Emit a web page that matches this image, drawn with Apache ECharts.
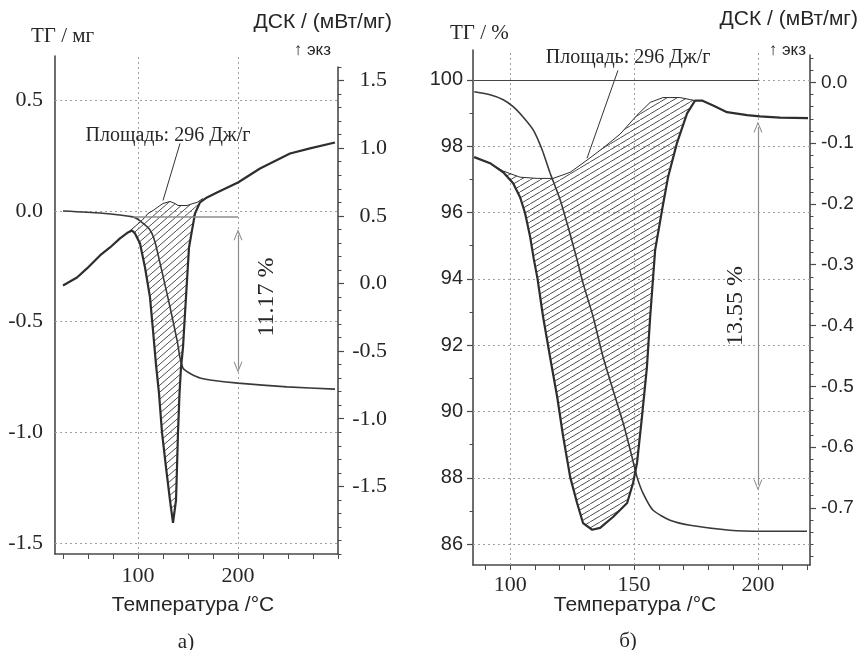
<!DOCTYPE html>
<html><head><meta charset="utf-8">
<script src="https://cdn.jsdelivr.net/npm/echarts@6/dist/echarts.min.js"></script>
<style>html,body{margin:0;padding:0;background:#fff}#c{width:865px;height:650px}</style>
</head><body><div id="c"></div>
<script>
// ===== Panel а) data =====
const aTGTemp = [25, 62, 95, 102, 112, 117, 122, 127, 132, 139, 142, 145, 148, 153, 162, 172, 200, 249, 297];
const aTGVal  = [0.000, -0.009, -0.027, -0.045, -0.086, -0.140, -0.235, -0.334, -0.434, -0.583, -0.664, -0.710, -0.723, -0.737, -0.755, -0.764, -0.778, -0.795, -0.805];
const aDSCTemp = [25, 39, 49, 62, 72, 82, 90, 94, 97, 102, 107, 112, 115, 118, 121, 124, 128, 132, 135, 138, 139, 140, 141.5, 143, 145, 147, 149, 151, 154, 157, 162, 169, 179, 200, 222, 252, 272, 297];
const aDSCVal  = [-0.015, 0.044, 0.111, 0.207, 0.266, 0.333, 0.377, 0.392, 0.370, 0.296, 0.118, -0.103, -0.347, -0.600, -0.813, -1.101, -1.360, -1.604, -1.770, -1.604, -1.360, -1.101, -0.813, -0.621, -0.473, -0.222, 0.022, 0.266, 0.392, 0.517, 0.599, 0.636, 0.673, 0.746, 0.850, 0.961, 0.998, 1.042];
const aBaseTemp = [90, 97, 104, 110, 115, 122, 125, 132, 137, 140, 149, 155, 159, 165];
const aBaseVal  = [0.377, 0.421, 0.466, 0.517, 0.539, 0.576, 0.591, 0.606, 0.591, 0.576, 0.576, 0.591, 0.599, 0.628];
const aXTicks = [25, 50, 75, 100, 125, 150, 175, 200, 225, 250, 275, 300];
const aXLabels = [100, 200];
const aTGLabels = [-1.5, -1.0, -0.5, 0.0, 0.5];
const aDSCLabels = [-1.5, -1.0, -0.5, 0.0, 0.5, 1.0, 1.5];
const aAreaText = 'Площадь: 296 Дж/г';
const aLossText = '11.17 %';

// ===== Panel б) data =====
const bTGTemp = [85.5, 91.9, 97.2, 101.2, 105.2, 109.3, 112.9, 116.1, 120.2, 123.4, 127.0, 129.4, 133.5, 137.5, 141.5, 145.6, 149.2, 151.2, 153.6, 157.7, 164.5, 172.6, 188.7, 202.0, 219.8];
const bTGVal  = [99.64, 99.55, 99.40, 99.19, 98.88, 98.49, 97.89, 97.19, 96.38, 95.56, 94.57, 93.87, 92.85, 91.64, 90.65, 89.65, 88.62, 88.02, 87.54, 87.02, 86.72, 86.57, 86.42, 86.39, 86.39];
const bDSCTemp = [85.5, 91.9, 97.2, 101.2, 104.0, 106.0, 108.1, 109.5, 111.0, 113.3, 116.1, 119.0, 121.4, 124.2, 127.0, 129.4, 133.1, 136.3, 141.5, 147.2, 149.6, 151.2, 153.2, 155.2, 156.5, 157.7, 158.5, 161.3, 163.7, 167.3, 171.4, 174.6, 177.4, 181.9, 187.5, 195.6, 200.8, 208.9, 220.2];
const bDSCVal  = [-0.123, -0.133, -0.148, -0.166, -0.189, -0.215, -0.255, -0.290, -0.322, -0.386, -0.452, -0.518, -0.583, -0.649, -0.692, -0.725, -0.736, -0.733, -0.715, -0.692, -0.659, -0.626, -0.550, -0.468, -0.386, -0.320, -0.276, -0.210, -0.156, -0.100, -0.051, -0.030, -0.030, -0.038, -0.049, -0.054, -0.056, -0.058, -0.059];
const bBaseTemp = [85.5, 91.9, 97.2, 104.0, 110.9, 117.3, 124.2, 131.0, 137.5, 144.4, 151.2, 156.5, 161.7, 168.5, 174.6];
const bBaseVal  = [-0.123, -0.133, -0.146, -0.156, -0.158, -0.158, -0.148, -0.128, -0.108, -0.085, -0.054, -0.033, -0.025, -0.025, -0.030];
const bXTicks = [90, 100, 110, 120, 130, 140, 150, 160, 170, 180, 190, 200, 210, 220];
const bXLabels = [100, 150, 200];
const bTGLabels = [86, 88, 90, 92, 94, 96, 98, 100];
const bDSCLabels = [-0.7, -0.6, -0.5, -0.4, -0.3, -0.2, -0.1, 0.0];
const bAreaText = 'Площадь: 296 Дж/г';
const bLossText = '13.55 %';

// ===== helpers =====
const SERIF = "'Liberation Serif','Times New Roman',serif";
const SANS = "'Liberation Sans',Arial,sans-serif";
const INK = '#262626';
const AXIS = '#4a4a4a';
const GRIDC = '#a0a0a0';
const CURVE = '#2e2e2e';
const ARROW = 'path://M5,0 L10,10 L8.8,10 L5,2.4 L1.2,10 L0,10 Z';

const zip = (xs, ys) => xs.map((x, i) => [x, ys[i]]);
function steps(a, b, s) { const out = []; const n = Math.round((b - a) / s); for (let i = 0; i <= n; i++) out.push(Math.round((a + i * s) * 1000) / 1000); return out; }
function regionPoints(cT, cV, bT, bV) {
  const lo = bT[0], hi = bT[bT.length - 1];
  const upper = [];
  cT.forEach((t, i) => { if (t >= lo && t <= hi) upper.push([t, cV[i]]); });
  return upper.concat(zip(bT, bV).reverse());
}
function makeHatch(w, h, color, lw) {
  const c = document.createElement('canvas'); c.width = w; c.height = h;
  const g = c.getContext('2d'); g.strokeStyle = color; g.lineWidth = lw;
  [-w, 0, w].forEach(dx => { g.beginPath(); g.moveTo(dx, h); g.lineTo(dx + w, 0); g.stroke(); });
  return c;
}
function hatchSeries(xi, yi, pts, canvas) {
  return {
    type: 'custom', xAxisIndex: xi, yAxisIndex: yi, data: pts, silent: true, z: 1, clip: true,
    encode: { x: 0, y: 1 },
    renderItem: function (params, api) {
      if (params.dataIndex !== 0) return null;
      const points = pts.map(p => api.coord(p));
      return { type: 'polygon', shape: { points: points }, style: { fill: { image: canvas, repeat: 'repeat' }, stroke: null } };
    }
  };
}
function gridSeries(xi, yi, xs, ys) {
  return {
    type: 'line', xAxisIndex: xi, yAxisIndex: yi, data: [], silent: true,
    markLine: {
      silent: true, animation: false, symbol: ['none', 'none'], label: { show: false }, z: 1,
      lineStyle: { color: GRIDC, width: 1, type: [2, 3] },
      data: xs.map(v => ({ xAxis: v })).concat(ys.map(v => ({ yAxis: v })))
    }
  };
}
function textMark(coord, text, font, size, rot) {
  return {
    silent: true, animation: false, symbol: 'circle', symbolSize: 1,
    itemStyle: { color: 'rgba(0,0,0,0)' },
    label: { show: true, position: 'inside', formatter: '{b}', rotate: rot || 0, fontFamily: font, fontSize: size, color: INK },
    data: [{ name: text, coord: coord }]
  };
}
const hideAxis = { axisLine: { show: false }, axisTick: { show: false }, axisLabel: { show: false }, splitLine: { show: false } };
function minorY(grid, min, max, pos, vals) {
  return Object.assign({ type: 'value', gridIndex: grid, min: min, max: max, position: pos }, hideAxis,
    { axisTick: { show: true, customValues: vals, length: 3.5, lineStyle: { color: AXIS, width: 1 } } });
}

const hatchA = makeHatch(8, 7, '#4d4d4d', 1);
const hatchB = makeHatch(10, 6, '#4d4d4d', 1);

const chart = echarts.init(document.getElementById('c'), null, { renderer: 'canvas', width: 865, height: 650 });
const option = {
  animation: false,
  backgroundColor: '#fff',
  textStyle: { fontFamily: SANS },
  grid: [
    { left: 55, right: 527, top: 56, bottom: 96 },
    { left: 55, right: 527, top: 67, bottom: 96 },
    { left: 473, right: 55, top: 50, bottom: 85 },
    { left: 473, right: 55, top: 55, bottom: 85 }
  ],
  xAxis: [
    { type: 'value', gridIndex: 0, min: 17, max: 300,
      axisLine: { show: true, onZero: false, lineStyle: { color: AXIS, width: 1.6 } },
      axisTick: { show: true, customValues: aXTicks, length: 5, lineStyle: { color: AXIS, width: 1 } },
      axisLabel: { show: true, customValues: aXLabels, margin: 11, fontFamily: SERIF, fontSize: 22, color: INK },
      splitLine: { show: false } },
    Object.assign({ type: 'value', gridIndex: 1, min: 17, max: 300 }, hideAxis),
    { type: 'value', gridIndex: 2, min: 85, max: 221,
      axisLine: { show: true, onZero: false, lineStyle: { color: AXIS, width: 1.6 } },
      axisTick: { show: true, customValues: bXTicks, length: 5, lineStyle: { color: AXIS, width: 1 } },
      axisLabel: { show: true, customValues: bXLabels, margin: 9, fontFamily: SERIF, fontSize: 22, color: INK },
      splitLine: { show: false } },
    Object.assign({ type: 'value', gridIndex: 3, min: 85, max: 221 }, hideAxis)
  ],
  yAxis: [
    { type: 'value', gridIndex: 0, min: -1.55, max: 0.7, position: 'left',
      axisLine: { show: true, onZero: false, lineStyle: { color: AXIS, width: 1.6 } },
      axisTick: { show: false },
      axisLabel: { show: true, customValues: aTGLabels, formatter: v => v.toFixed(1), margin: 12, fontFamily: SERIF, fontSize: 22, color: INK },
      splitLine: { show: false } },
    { type: 'value', gridIndex: 1, min: -2.0, max: 1.6, position: 'right',
      axisLine: { show: true, onZero: false, lineStyle: { color: AXIS, width: 1.6 } },
      axisTick: { show: true, customValues: aDSCLabels, length: 6, lineStyle: { color: AXIS, width: 1.2 } },
      axisLabel: { show: true, customValues: aDSCLabels, formatter: v => v.toFixed(1), align: 'right', margin: 49, fontFamily: SERIF, fontSize: 22, color: INK },
      splitLine: { show: false } },
    minorY(1, -2.0, 1.6, 'right', steps(-2.0, 1.6, 0.1)),
    { type: 'value', gridIndex: 2, min: 85.37, max: 100.9, position: 'left',
      axisLine: { show: true, onZero: false, lineStyle: { color: AXIS, width: 1.6 } },
      axisTick: { show: true, customValues: bTGLabels, length: 6, lineStyle: { color: AXIS, width: 1.2 } },
      axisLabel: { show: true, customValues: bTGLabels, margin: 10, fontFamily: SANS, fontSize: 20, color: INK },
      splitLine: { show: false } },
    minorY(2, 85.37, 100.9, 'left', steps(86, 100, 1)),
    { type: 'value', gridIndex: 3, min: -0.794, max: 0.045, position: 'right',
      axisLine: { show: true, onZero: false, lineStyle: { color: AXIS, width: 1.6 } },
      axisTick: { show: true, customValues: bDSCLabels, length: 6, lineStyle: { color: AXIS, width: 1.2 } },
      axisLabel: { show: true, customValues: bDSCLabels, formatter: v => v.toFixed(1), margin: 11, fontFamily: SANS, fontSize: 19, color: INK },
      splitLine: { show: false } },
    minorY(3, -0.794, 0.045, 'right', steps(-0.78, 0.04, 0.02))
  ],
  series: [
    // ---- panel а ----
    gridSeries(0, 0, aXLabels, aTGLabels),
    hatchSeries(1, 1, regionPoints(aDSCTemp, aDSCVal, aBaseTemp, aBaseVal), hatchA),
    { type: 'line', xAxisIndex: 1, yAxisIndex: 1, data: zip(aBaseTemp, aBaseVal), showSymbol: false, z: 3, silent: true,
      lineStyle: { color: CURVE, width: 1 } },
    { type: 'line', xAxisIndex: 1, yAxisIndex: 1, data: zip(aDSCTemp, aDSCVal), showSymbol: false, z: 4, silent: true,
      lineStyle: { color: CURVE, width: 2.2 },
      markLine: { silent: true, animation: false, symbol: ['none', 'none'], label: { show: false },
        lineStyle: { color: '#333', width: 1, type: 'solid' },
        data: [[{ coord: [142, 1.035] }, { coord: [125, 0.613] }]] },
      markPoint: textMark([130, 1.094], aAreaText, SERIF, 20, 0) },
    { type: 'line', xAxisIndex: 0, yAxisIndex: 0, data: zip(aTGTemp, aTGVal), showSymbol: false, z: 3, silent: true,
      smooth: 0.2,
      lineStyle: { color: '#3a3a3a', width: 1.6 },
      markLine: { silent: true, animation: false, symbol: ['none', 'none'], symbolSize: [9, 11], label: { show: false },
        data: [
          [{ coord: [95, -0.025], lineStyle: { color: '#8c8c8c', width: 1.5, type: 'solid' } }, { coord: [200, -0.025] }],
          [{ coord: [200, -0.108], symbol: ARROW, lineStyle: { color: '#8c8c8c', width: 1.2, type: 'solid' } }, { coord: [200, -0.706], symbol: ARROW }]
        ] },
      markPoint: textMark([229, -0.389], aLossText, SERIF, 24, 90) },
    // ---- panel б ----
    gridSeries(2, 3, bXLabels, bTGLabels),
    hatchSeries(3, 5, regionPoints(bDSCTemp, bDSCVal, bBaseTemp, bBaseVal), hatchB),
    { type: 'line', xAxisIndex: 3, yAxisIndex: 5, data: zip(bBaseTemp, bBaseVal), showSymbol: false, z: 3, silent: true,
      lineStyle: { color: CURVE, width: 1 } },
    { type: 'line', xAxisIndex: 3, yAxisIndex: 5, data: zip(bDSCTemp, bDSCVal), showSymbol: false, z: 4, silent: true,
      lineStyle: { color: CURVE, width: 2.2 },
      markLine: { silent: true, animation: false, symbol: ['none', 'none'], label: { show: false },
        lineStyle: { color: '#333', width: 1, type: 'solid' },
        data: [[{ coord: [143.5, 0.0197] }, { coord: [131.0, -0.125] }]] },
      markPoint: textMark([147.6, 0.040], bAreaText, SERIF, 20, 0) },
    { type: 'line', xAxisIndex: 2, yAxisIndex: 3, data: zip(bTGTemp, bTGVal), showSymbol: false, z: 3, silent: true,
      smooth: 0.2,
      lineStyle: { color: '#3a3a3a', width: 1.6 },
      markLine: { silent: true, animation: false, symbol: ['none', 'none'], symbolSize: [9, 11], label: { show: false },
        data: [
          [{ coord: [85.2, 100], lineStyle: { color: '#444', width: 1.2, type: 'solid' } }, { coord: [200, 100] }],
          [{ coord: [200, 98.58], symbol: ARROW, lineStyle: { color: '#8c8c8c', width: 1.2, type: 'solid' } }, { coord: [200, 87.78], symbol: ARROW }]
        ] },
      markPoint: textMark([191.1, 93.18], bLossText, SERIF, 24, 90) }
  ],
  graphic: [
    { type: 'text', x: 31, y: 36, silent: true, style: { text: 'ТГ / мг', font: '21px ' + SERIF, fill: INK, align: 'left', verticalAlign: 'middle' } },
    { type: 'text', x: 392, y: 22, silent: true, style: { text: 'ДСК / (мВт/мг)', font: '21px ' + SANS, fill: INK, align: 'right', verticalAlign: 'middle' } },
    { type: 'text', x: 331, y: 50, silent: true, style: { text: '↑ экз', font: '17px ' + SANS, fill: INK, align: 'right', verticalAlign: 'middle' } },
    { type: 'text', x: 193, y: 605, silent: true, style: { text: 'Температура /°C', font: '21px ' + SANS, fill: INK, align: 'center', verticalAlign: 'middle' } },
    { type: 'text', x: 186, y: 642, silent: true, style: { text: 'а)', font: '21px ' + SERIF, fill: INK, align: 'center', verticalAlign: 'middle' } },
    { type: 'text', x: 450, y: 33, silent: true, style: { text: 'ТГ / %', font: '21px ' + SERIF, fill: INK, align: 'left', verticalAlign: 'middle' } },
    { type: 'text', x: 858, y: 19, silent: true, style: { text: 'ДСК / (мВт/мг)', font: '21px ' + SANS, fill: INK, align: 'right', verticalAlign: 'middle' } },
    { type: 'text', x: 806, y: 50, silent: true, style: { text: '↑ экз', font: '17px ' + SANS, fill: INK, align: 'right', verticalAlign: 'middle' } },
    { type: 'text', x: 635, y: 605, silent: true, style: { text: 'Температура /°C', font: '21px ' + SANS, fill: INK, align: 'center', verticalAlign: 'middle' } },
    { type: 'text', x: 628, y: 641, silent: true, style: { text: 'б)', font: '21px ' + SERIF, fill: INK, align: 'center', verticalAlign: 'middle' } }
  ]
};
chart.setOption(option);
</script>
</body></html>
